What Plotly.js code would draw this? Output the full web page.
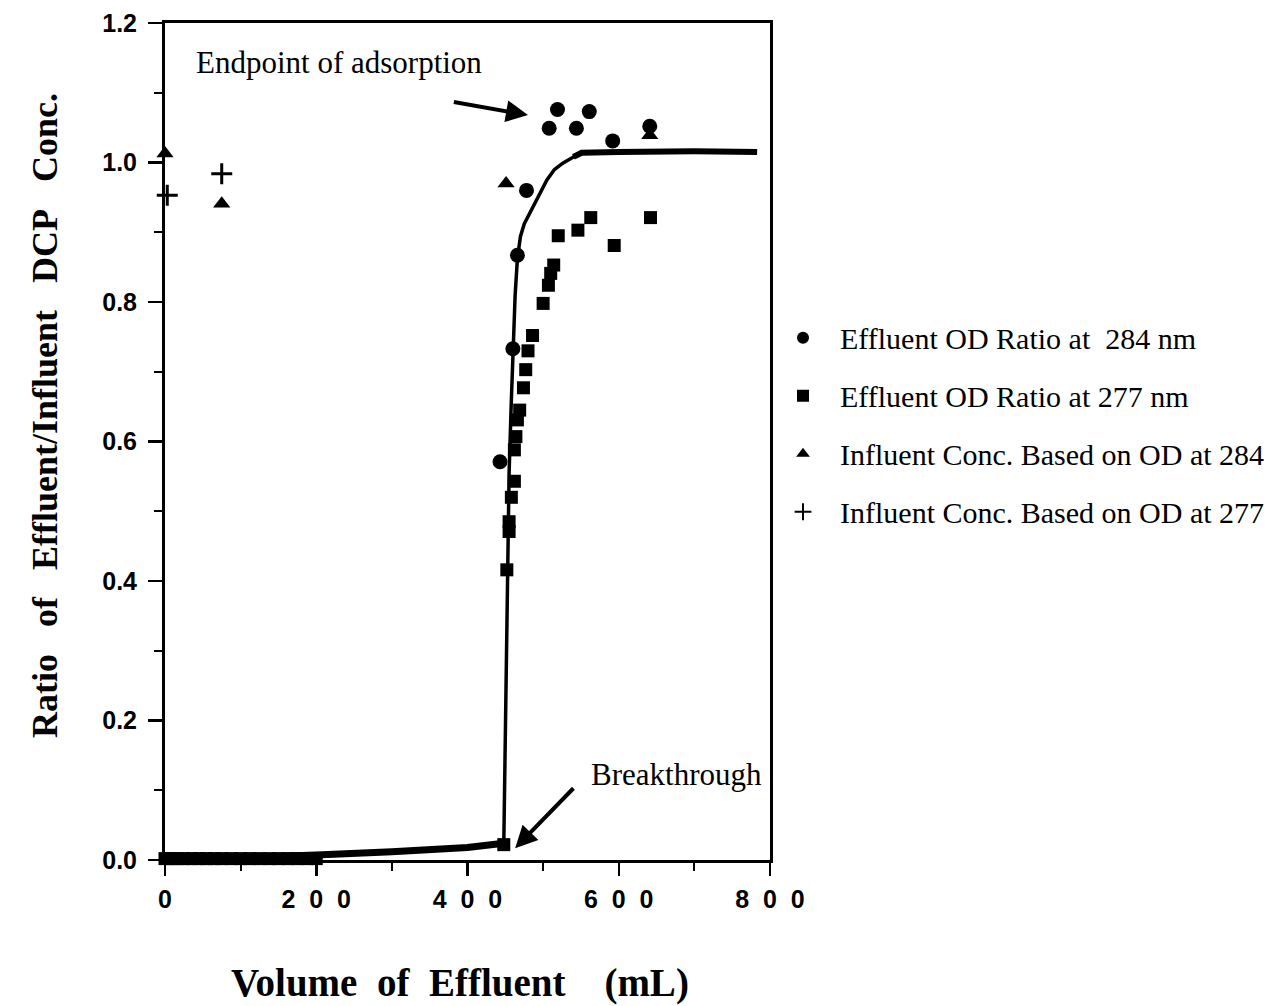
<!DOCTYPE html>
<html>
<head>
<meta charset="utf-8">
<script src="https://cdn.plot.ly/plotly-3.0.1.min.js"></script>
<style>html,body{margin:0;padding:0;background:#fff;}#chart{width:1287px;height:1006px;}</style>
</head>
<body>
<div id="chart"></div>
<script>
// ---- Data ----
// Effluent OD ratio at 284 nm (circles)
const circVol   = [443, 460, 466, 478, 508, 519, 544, 561, 592, 641];
const circRatio = [0.571, 0.733, 0.867, 0.960, 1.049, 1.076, 1.049, 1.073, 1.031, 1.052];

// Effluent OD ratio at 277 nm (squares)
const sqVol   = [0, 8, 16, 25, 35, 45, 55, 65, 75, 88, 100, 112, 125, 138, 150, 163, 175, 188, 200,
                 448, 452, 455, 455, 458, 462, 462, 464, 466, 469, 474, 477, 480, 486, 500, 507, 510, 514, 520, 546, 563, 594, 642];
const sqRatio = [0.002, 0.002, 0.002, 0.002, 0.002, 0.002, 0.002, 0.002, 0.002, 0.002, 0.002, 0.002, 0.002, 0.002, 0.002, 0.002, 0.002, 0.002, 0.002,
                 0.022, 0.416, 0.471, 0.485, 0.520, 0.543, 0.588, 0.607, 0.631, 0.645, 0.677, 0.703, 0.730, 0.752, 0.798, 0.824, 0.841, 0.853, 0.895, 0.903, 0.921, 0.881, 0.921];

// Influent concentration based on OD at 284 (triangles)
const triVol   = [0, 75, 451, 641];
const triRatio = [1.013, 0.941, 0.970, 1.039];

// Influent concentration based on OD at 277 (crosses)
const crossVol   = [3, 75];
const crossRatio = [0.953, 0.984];

// Fitted breakthrough curve (three pieces drawn with different stroke weights)
const fitLowVol    = [0, 100, 200, 300, 400, 448];
const fitLowRatio  = [0.0, 0.003, 0.007, 0.012, 0.018, 0.024];
const fitRiseVol   = [448, 450, 453.5, 455, 458, 460, 463, 466, 468, 470, 475, 482, 490, 495, 505, 515, 526, 540, 551];
const fitRiseRatio = [0.024, 0.2, 0.42, 0.554, 0.66, 0.733, 0.81, 0.862, 0.882, 0.894, 0.912, 0.927, 0.945, 0.955, 0.975, 0.99, 0.999, 1.008, 1.014];
const fitTopVol    = [540, 551, 600, 650, 700, 783];
const fitTopRatio  = [1.008, 1.014, 1.015, 1.016, 1.016, 1.015];

// Tick labels
const xTickVals = [0, 200, 400, 600, 800];
const xTickText = ['0', '2\u20070\u20070', '4\u20070\u20070', '6\u20070\u20070', '8\u20070\u20070'];
const yTickVals = [0, 0.2, 0.4, 0.6, 0.8, 1.0, 1.2];
const yTickText = ['0.0', '0.2', '0.4', '0.6', '0.8', '1.0', '1.2'];

// Axis titles and legend labels
const xTitle = 'Volume\u00a0\u00a0of\u00a0\u00a0Effluent\u00a0\u00a0\u00a0\u00a0(mL)';
const yTitle = 'Ratio\u00a0\u00a0\u00a0of\u00a0\u00a0\u00a0Effluent/Influent\u00a0\u00a0\u00a0DCP\u00a0\u00a0\u00a0Conc.';
const seriesNames = [
  'Effluent OD Ratio at \u00a0284 nm',
  'Effluent OD Ratio at 277 nm',
  'Influent Conc. Based on OD at 284',
  'Influent Conc. Based on OD at 277'
];

const black = '#000000';
const serif = 'Liberation Serif, Times New Roman, serif';

const traces = [
  {x: fitLowVol, y: fitLowRatio, mode: 'lines', line: {color: black, width: 7}, showlegend: false, hoverinfo: 'skip'},
  {x: fitRiseVol, y: fitRiseRatio, mode: 'lines', line: {color: black, width: 3.5}, showlegend: false, hoverinfo: 'skip'},
  {x: fitTopVol, y: fitTopRatio, mode: 'lines', line: {color: black, width: 6}, showlegend: false, hoverinfo: 'skip'},
  {x: circVol, y: circRatio, mode: 'markers', name: seriesNames[0], cliponaxis: false,
   marker: {symbol: 'circle', size: 15, color: black}, legendgroup: 'a'},
  {x: sqVol, y: sqRatio, mode: 'markers', name: seriesNames[1], cliponaxis: false,
   marker: {symbol: 'square', size: 13, color: black}, legendgroup: 'b'},
  {x: triVol, y: triRatio, mode: 'markers', name: seriesNames[2], cliponaxis: false,
   marker: {symbol: 'triangle-up', size: 15, color: black}, legendgroup: 'c'},
  {x: crossVol, y: crossRatio, mode: 'markers', name: seriesNames[3], cliponaxis: false,
   marker: {symbol: 'cross-thin', size: 15, color: black, line: {color: black, width: 3}}, legendgroup: 'd'}
];

const tickFont = {family: 'Liberation Sans, Arial, sans-serif', size: 25, color: black, weight: 'bold'};

const layout = {
  width: 1287,
  height: 1006,
  margin: {l: 165, r: 517, t: 23, b: 146, pad: 0},
  paper_bgcolor: '#ffffff',
  plot_bgcolor: '#ffffff',
  font: {family: serif, color: black},
  showlegend: true,
  legend: {
    x: 0.9934, xanchor: 'left', y: 0.655, yanchor: 'top',
    font: {family: serif, size: 30, color: black},
    tracegroupgap: 16,
    itemwidth: 64,
    itemsizing: 'constant',
    bgcolor: 'rgba(0,0,0,0)'
  },
  xaxis: {
    range: [0, 800],
    showgrid: false, zeroline: false,
    showline: true, linecolor: black, linewidth: 3, mirror: true,
    ticks: 'outside', ticklen: 13, tickwidth: 2.5, tickcolor: black,
    tickvals: xTickVals, ticktext: xTickText,
    tickfont: tickFont, ticklabelstandoff: 2,
    minor: {dtick: 100, ticks: 'outside', ticklen: 8, tickwidth: 2, tickcolor: black, showgrid: false},
    fixedrange: true
  },
  yaxis: {
    range: [0, 1.2],
    showgrid: false, zeroline: false,
    showline: true, linecolor: black, linewidth: 3, mirror: true,
    ticks: 'outside', ticklen: 14, tickwidth: 2.5, tickcolor: black,
    tickvals: yTickVals, ticktext: yTickText,
    tickfont: tickFont, ticklabelstandoff: 6,
    minor: {dtick: 0.1, ticks: 'outside', ticklen: 8, tickwidth: 2, tickcolor: black, showgrid: false},
    fixedrange: true
  },
  annotations: [
    {
      text: xTitle, xref: 'paper', yref: 'paper', x: 0.4876, y: -0.147, xanchor: 'center', yanchor: 'middle',
      showarrow: false, font: {family: serif, size: 39, color: black, weight: 'bold'}
    },
    {
      text: yTitle, xref: 'paper', yref: 'paper', x: -0.1983, y: 0.5305, xanchor: 'center', yanchor: 'middle',
      textangle: -90, showarrow: false, font: {family: serif, size: 36, color: black, weight: 'bold'}
    },
    {
      text: 'Endpoint of adsorption', xref: 'x', yref: 'y', x: 230, y: 1.143,
      showarrow: false, font: {family: serif, size: 31, color: black}
    },
    {
      text: '', xref: 'x', yref: 'y', x: 480, y: 1.068, axref: 'x', ayref: 'y', ax: 380, ay: 1.087,
      showarrow: true, arrowhead: 2, arrowsize: 1.1, arrowwidth: 4, arrowcolor: black, standoff: 0
    },
    {
      text: 'Breakthrough', xref: 'x', yref: 'y', x: 677, y: 0.122,
      showarrow: false, font: {family: serif, size: 31, color: black}
    },
    {
      text: '', xref: 'x', yref: 'y', x: 463, y: 0.017, axref: 'x', ayref: 'y', ax: 542, ay: 0.105,
      showarrow: true, arrowhead: 2, arrowsize: 1.1, arrowwidth: 4, arrowcolor: black, standoff: 0
    }
  ]
};

Plotly.newPlot('chart', traces, layout, {staticPlot: true, displayModeBar: false});
</script>
</body>
</html>
